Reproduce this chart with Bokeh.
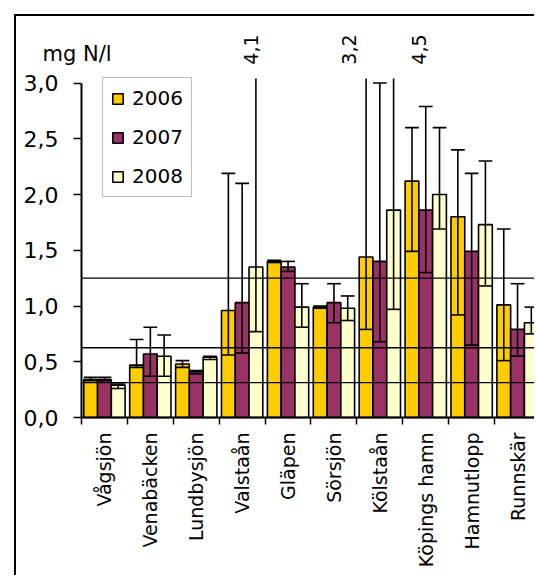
from math import pi

from bokeh.plotting import figure
from bokeh.models import (Range1d, FixedTicker, Label, Legend,
                          LegendItem, ColumnDataSource)
from bokeh.embed import file_html
from bokeh.resources import INLINE

# Total nitrogen per sampling site and year (mean with min/max range)
sites = ["Vågsjön", "Venabäcken", "Lundbysjön", "Valstaån", "Gläpen",
         "Sörsjön", "Kölstaån", "Köpings hamn", "Hamnutlopp", "Runnskär"]
years = ["2006", "2007", "2008"]

mean_2006 = [0.34, 0.47, 0.48, 0.96, 1.40, 0.99, 1.44, 2.12, 1.80, 1.01]
low_2006 = [0.33, 0.45, 0.45, 0.56, 1.39, 0.98, 0.79, 1.49, 0.92, 0.51]
high_2006 = [0.36, 0.70, 0.51, 2.19, 1.41, 1.00, 3.2, 2.60, 2.40, 1.69]

mean_2007 = [0.34, 0.57, 0.41, 1.03, 1.35, 1.03, 1.40, 1.86, 1.49, 0.79]
low_2007 = [0.33, 0.37, 0.39, 0.58, 1.31, 0.85, 0.68, 1.30, 0.65, 0.55]
high_2007 = [0.36, 0.81, 0.42, 2.10, 1.40, 1.20, 3.0, 2.79, 2.19, 1.20]

mean_2008 = [0.29, 0.55, 0.54, 1.35, 0.99, 0.98, 1.86, 2.00, 1.73, 0.85]
low_2008 = [0.26, 0.37, 0.52, 0.77, 0.81, 0.87, 0.97, 1.69, 1.18, 0.75]
high_2008 = [0.30, 0.74, 0.55, 4.1, 1.20, 1.09, 4.5, 2.60, 2.30, 0.99]

# Class limits drawn as horizontal guide lines
guide_levels = [0.3125, 0.625, 1.25]

y_ticks = [0.0, 0.5, 1.0, 1.5, 2.0, 2.5, 3.0]
y_tick_labels = ["0,0", "0,5", "1,0", "1,5", "2,0", "2,5", "3,0"]
y_unit = "mg N/l"

colors = ["#FFCC00", "#993366", "#FFFFCC"]
offsets = [-0.3, 0.0, 0.3]
bar_w = 0.3
axis_top = 3.0
whisker_clip = 3.04      # whiskers are cut here; their value is written above
label_y = 3.30
x_start, x_end = -1.416, 9.913
y_start, y_end = -1.435, 3.471
px_per_site = 45.9
# horizontal nudges (pixels) for the out-of-range value labels,
# keyed by (year index, site index)
label_nudges = {(0, 6): -17, (2, 3): -5, (2, 6): 25}

FONT = "DejaVu Sans"
NAN = float("nan")

series = [
    (mean_2006, low_2006, high_2006),
    (mean_2007, low_2007, high_2007),
    (mean_2008, low_2008, high_2008),
]

centers = [i + 0.5 for i in range(len(sites))]
bounds = [float(i) for i in range(len(sites) + 1)]

p = figure(width=520, height=561,
           x_range=Range1d(x_start, x_end), y_range=Range1d(y_start, y_end),
           output_backend="svg", toolbar_location=None,
           min_border_left=0, min_border_right=0,
           min_border_top=14, min_border_bottom=0)
p.margin = (14, 0, 0, 14)
p.styles = {"border-left": "2px solid #000", "border-top": "2px solid #000"}
p.outline_line_color = None
p.background_fill_color = "white"
p.border_fill_color = "white"
p.xgrid.visible = False
p.ygrid.visible = False

# x axis at y = 0: site names at centres, tick marks on category boundaries
xa = p.xaxis[0]
xa.fixed_location = 0
xa.ticker = FixedTicker(ticks=centers, minor_ticks=bounds)
xa.major_label_overrides = {c: s for c, s in zip(centers, sites)}
xa.bounds = (0, x_end)
xa.major_label_orientation = pi / 2
xa.major_tick_line_color = None
xa.major_tick_out = 7
xa.major_tick_in = 0
xa.minor_tick_out = 7
xa.minor_tick_in = 0
xa.minor_tick_line_color = "black"
xa.minor_tick_line_width = 1.5
xa.axis_line_width = 2
xa.axis_line_color = "black"
xa.major_label_standoff = 8
xa.major_label_text_font = FONT
xa.major_label_text_font_size = "19px"
xa.major_label_text_color = "black"

# y axis at x = 0
ya = p.yaxis[0]
ya.fixed_location = 0
ya.ticker = FixedTicker(ticks=y_ticks)
ya.major_label_overrides = {t: s for t, s in zip(y_ticks, y_tick_labels)}
ya.bounds = (0, axis_top)
ya.major_tick_out = 8
ya.major_tick_in = 0
ya.major_tick_line_width = 1.5
ya.minor_tick_line_color = None
ya.axis_line_width = 2
ya.axis_line_color = "black"
ya.major_label_standoff = 15
ya.major_label_text_font = FONT
ya.major_label_text_font_size = "22px"
ya.major_label_text_color = "black"

# guide lines across the plotting area
p.segment(x0=[0] * len(guide_levels), y0=guide_levels,
          x1=[x_end] * len(guide_levels), y1=guide_levels,
          line_color="black", line_width=1.4, level="overlay")

legend_items = []
bar_sources = []
for k, (mean, low, high) in enumerate(series):
    xs = [c + offsets[k] for c in centers]
    src = ColumnDataSource(dict(
        x=xs, top=mean, low=low,
        stem_top=[min(h, whisker_clip) for h in high],
        cap_top=[h if h <= whisker_clip else NAN for h in high],
        cl=[x - bar_w / 2 for x in xs],
        cr=[x + bar_w / 2 for x in xs]))
    bar_sources.append(src)
    r = p.vbar(x="x", top="top", bottom=0, width=bar_w, source=src,
               fill_color=colors[k], line_color="black", line_width=1.6)
    legend_items.append(LegendItem(label=years[k], renderers=[r]))

# range bars (min/max) with end caps
for src in bar_sources:
    p.segment(x0="x", y0="low", x1="x", y1="stem_top", source=src,
              line_color="black", line_width=1.6)
    p.segment(x0="cl", y0="cap_top", x1="cr", y1="cap_top", source=src,
              line_color="black", line_width=1.6)
    p.segment(x0="cl", y0="low", x1="cr", y1="low", source=src,
              line_color="black", line_width=1.6)

# values of whiskers that run past the top of the axis
for k, (mean, low, high) in enumerate(series):
    for i, h in enumerate(high):
        if h > whisker_clip:
            txt = f"{h:.1f}".replace(".", ",")
            nudge = label_nudges.get((k, i), 0)
            lx = centers[i] + offsets[k] + nudge / px_per_site
            p.text(x=[lx], y=[label_y], text=[txt],
                   angle=pi / 2, text_align="center", text_baseline="middle",
                   text_font_size="19px",
                   text_font={"value": FONT}, text_color="black")

p.add_layout(Label(x=-0.85, y=3.26, text=y_unit, text_align="left",
                   text_baseline="alphabetic", text_font=FONT,
                   text_font_size="21px", text_color="black"))

legend = Legend(items=legend_items, location=(86, 380), margin=0,
                border_line_color="#808080", border_line_width=1.5,
                background_fill_color="white", background_fill_alpha=1,
                label_text_font=FONT, label_text_font_size="20px",
                label_text_color="black",
                glyph_width=13, glyph_height=13, spacing=15, padding=8,
                label_standoff=8)
p.add_layout(legend)

open("out.html", "w").write(file_html(p, INLINE))
